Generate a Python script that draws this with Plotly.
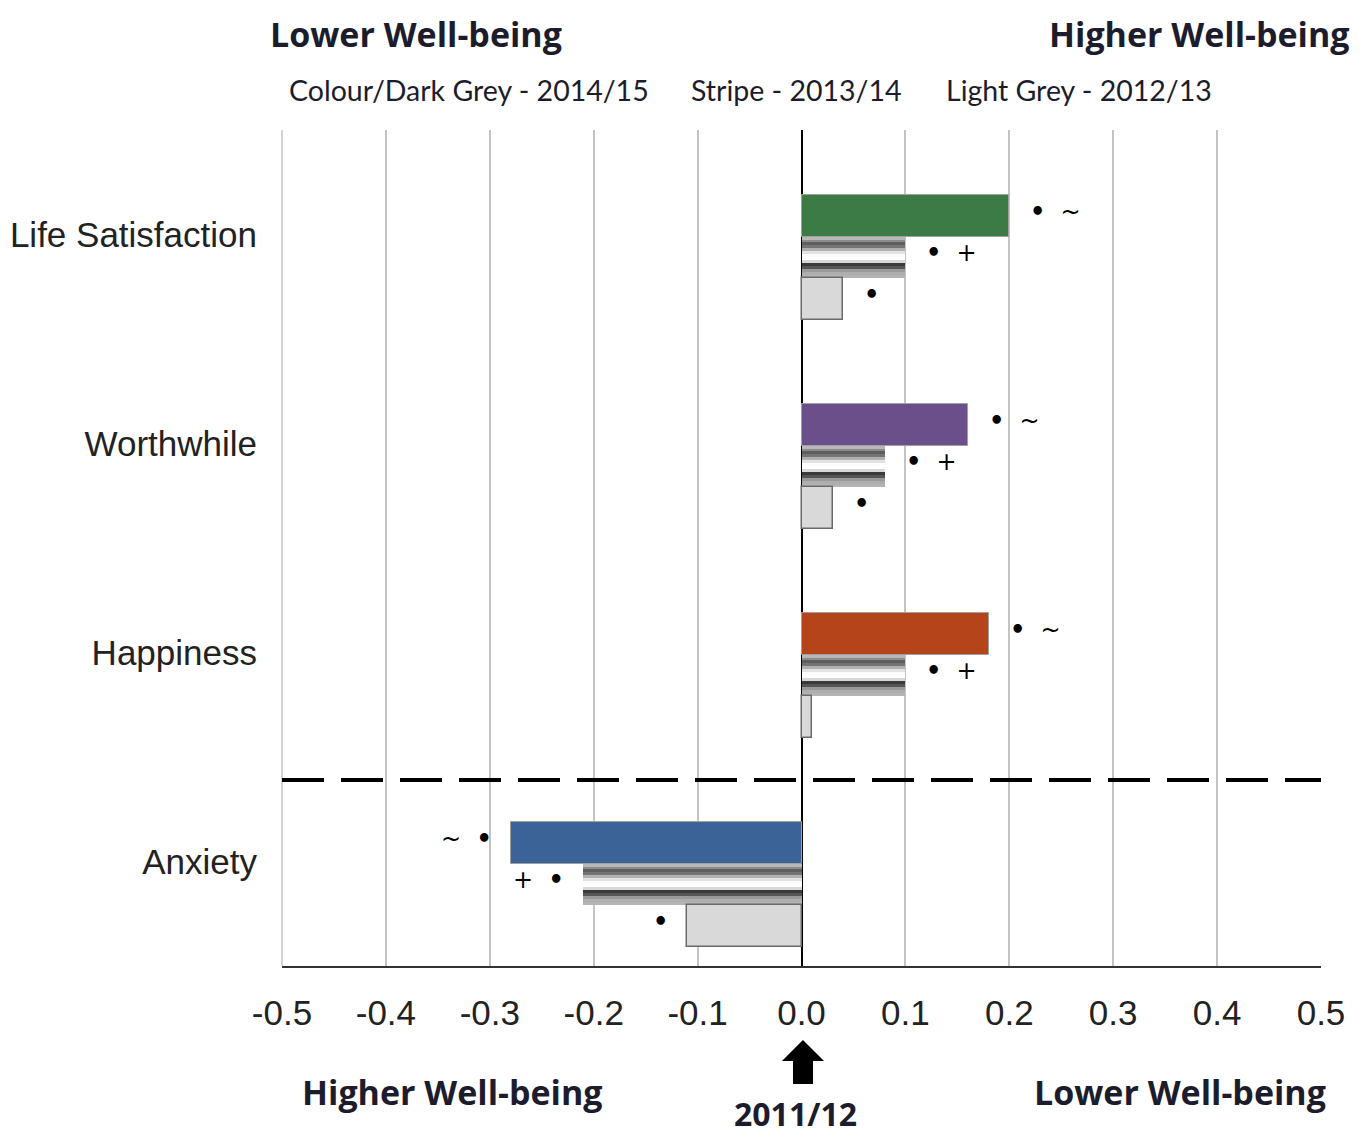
import plotly.graph_objects as go

# ---------------- data ----------------
categories = ["Life Satisfaction", "Worthwhile", "Happiness", "Anxiety"]
colour_2014_15 = ["#3d7b46", "#6a4f8a", "#b5441b", "#3b6398"]
values_2014_15 = [0.20, 0.16, 0.18, -0.28]
values_2013_14 = [0.10, 0.08, 0.10, -0.21]
values_2012_13 = [0.04, 0.03, 0.01, -0.11]
sig_2014_15 = ["•  ~", "•  ~", "•  ~", "~  •"]
sig_2013_14 = ["•  +", "•  +", "•  +", "+  •"]
sig_2012_13 = ["•", "•", "", "•"]
x_ticks = [-0.5, -0.4, -0.3, -0.2, -0.1, 0.0, 0.1, 0.2, 0.3, 0.4, 0.5]
x_ticklabels = [f"{v:.1f}" for v in x_ticks]

# ---------------- layout helpers ----------------
pos = list(range(len(categories)))
bar_w = 0.2
off_2014 = -0.09
off_2013 = 0.11
off_2012 = 0.31
stripe_colours = ["#b8b8b8", "#8c8c8c", "#5e5e5e", "#747474", "#b0b0b0", "#e2e2e2",
                  "#fcfcfc", "#ffffff", "#d8d8d8", "#3a3a3a", "#555555", "#9a9a9a",
                  "#aeaeae", "#b4b4b4"]

fig = go.Figure()

# 2014/15 colour bars
fig.add_trace(go.Bar(
    orientation="h", x=values_2014_15, y=[p + off_2014 for p in pos], width=bar_w,
    marker=dict(color=colour_2014_15, line=dict(color="#a0a0a0", width=1)),
    showlegend=False, hoverinfo="skip"))

# 2013/14 striped bars (horizontal stripes built from thin slices)
n = len(stripe_colours)
sw = bar_w / n
for k, c in enumerate(stripe_colours):
    yk = [p + off_2013 - bar_w / 2 + sw * (k + 0.5) for p in pos]
    fig.add_trace(go.Bar(
        orientation="h", x=values_2013_14, y=yk, width=sw * 1.05,
        marker=dict(color=c, line=dict(width=0)),
        showlegend=False, hoverinfo="skip"))

# 2012/13 light grey bars
fig.add_trace(go.Bar(
    orientation="h", x=values_2012_13, y=[p + off_2012 for p in pos], width=bar_w,
    marker=dict(color="#d9d9d9", line=dict(color="#6a6a6a", width=1.5)),
    showlegend=False, hoverinfo="skip"))

# significance markers
def fmt_sig(s):
    return s.replace("•", "<b>•</b>")

annotations = []
for vals, sigs, off in [(values_2014_15, sig_2014_15, off_2014),
                        (values_2013_14, sig_2013_14, off_2013),
                        (values_2012_13, sig_2012_13, off_2012)]:
    for p, v, s in zip(pos, vals, sigs):
        if not s:
            continue
        annotations.append(dict(
            x=v, y=p + off - 0.02, xref="x", yref="y", text=fmt_sig(s), showarrow=False,
            xanchor="left" if v >= 0 else "right", xshift=19 if v >= 0 else -17,
            font=dict(family="DejaVu Sans", size=24, color="#000")))

hdr_font = dict(family="Open Sans", size=34, color="#1c1c2c")
sub_font = dict(family="Lato", size=28.5, color="#1c1c2c")
annotations += [
    dict(x=-0.0135, y=1.1447, xref="paper", yref="paper", text="<b>Lower Well-being</b>",
         xanchor="left", yanchor="top", showarrow=False, font=hdr_font),
    dict(x=1.030, y=1.1447, xref="paper", yref="paper", text="<b>Higher Well-being</b>",
         xanchor="right", yanchor="top", showarrow=False, font=hdr_font),
    dict(x=0.0048, y=1.048, xref="paper", yref="paper", text="Colour/Dark Grey - 2014/15",
         xanchor="left", yanchor="middle", showarrow=False, font=sub_font),
    dict(x=0.392, y=1.048, xref="paper", yref="paper", text="Stripe - 2013/14",
         xanchor="left", yanchor="middle", showarrow=False, font=sub_font),
    dict(x=0.637, y=1.048, xref="paper", yref="paper", text="Light Grey - 2012/13",
         xanchor="left", yanchor="middle", showarrow=False, font=sub_font),
    dict(x=0.0173, y=-0.1507, xref="paper", yref="paper", text="<b>Higher Well-being</b>",
         xanchor="left", yanchor="middle", showarrow=False, font=hdr_font),
    dict(x=1.0067, y=-0.1507, xref="paper", yref="paper", text="<b>Lower Well-being</b>",
         xanchor="right", yanchor="middle", showarrow=False, font=hdr_font),
    dict(x=0.4947, y=-0.2045, xref="paper", yref="paper", text="<b>2011/12</b>",
         xanchor="center", yanchor="bottom", showarrow=False,
         font=dict(family="Open Sans", size=32, color="#1c1c2c")),
]

# arrow pointing up at 0.0 (paper coordinates, from page pixels of plot area 282..1321 x 130..966)
def px2paper(px, py):
    return (px - 282) / 1039, (966 - py) / 836

pts = [(803, 1040), (824, 1061), (813, 1061), (813, 1084), (793, 1084), (793, 1061), (782, 1061)]
path = "M " + " L ".join(f"{px2paper(a, b)[0]:.4f},{px2paper(a, b)[1]:.4f}" for a, b in pts) + " Z"

shapes = [
    dict(type="path", path=path, xref="paper", yref="paper",
         fillcolor="#000", line=dict(color="#000", width=0)),
    # dashed separator between positive and negative measures
    dict(type="line", xref="paper", yref="y", x0=0, x1=1, y0=2.61, y1=2.61,
         line=dict(color="#000", width=4, dash="42px,17px")),
    # left border line (same grey as grid)
    dict(type="line", xref="paper", yref="paper", x0=0, x1=0, y0=0, y1=1,
         line=dict(color="#c4c4c4", width=1.5), layer="below"),
]

fig.update_layout(
    width=1355, height=1129,
    margin=dict(l=274, r=42, t=122, b=171),
    paper_bgcolor="white", plot_bgcolor="white",
    barmode="overlay", bargap=0,
    showlegend=False,
    annotations=annotations, shapes=shapes,
    xaxis=dict(range=[-0.5, 0.5], tickvals=x_ticks, ticktext=x_ticklabels,
               showgrid=True, gridcolor="#c4c4c4", gridwidth=1.5,
               zeroline=True, zerolinecolor="#000", zerolinewidth=2,
               showline=True, linecolor="#333", linewidth=2, mirror=False,
               ticks="", ticklabelstandoff=15, automargin=False,
               tickfont=dict(family="Liberation Sans", size=35, color="#222")),
    yaxis=dict(range=[3.5, -0.5], tickvals=pos, ticktext=categories,
               showgrid=False, zeroline=False, showline=False,
               ticks="", ticklabelstandoff=24, automargin=False,
               tickfont=dict(family="Liberation Sans", size=35, color="#222")),
)

fig.write_html("out.html")
